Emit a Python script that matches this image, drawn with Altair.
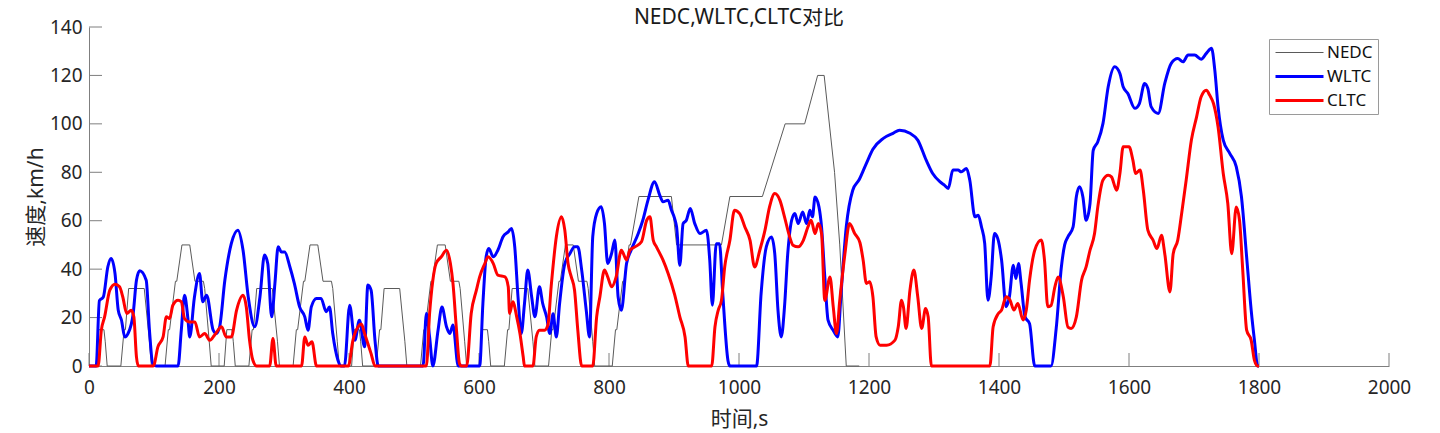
import altair as alt
import pandas as pd

TITLE = "NEDC,WLTC,CLTC对比"
X_TITLE = "时间,s"
Y_TITLE = "速度,km/h"
SERIES = ["NEDC", "WLTC", "CLTC"]
SERIES_COLORS = ["#5a5a5a", "#0000ff", "#ff0000"]
SERIES_WIDTHS = [1, 3, 3]
X_TICKS = [0, 200, 400, 600, 800, 1000, 1200, 1400, 1600, 1800, 2000]
Y_TICKS = [0, 20, 40, 60, 80, 100, 120, 140]

NEDC_T = [0, 11, 15, 23, 25, 28, 49, 54, 56, 61, 85, 93, 96, 117, 122, 124, 133, 135, 143, 155, 163, 176, 178, 185, 188,
          208, 212, 220, 222, 225, 246, 251, 253, 258, 282, 290, 293, 314, 319, 321, 330, 332, 340, 352, 360, 373, 375, 382, 385,
          404, 408, 416, 418, 421, 442, 447, 449, 454, 478, 486, 489, 510, 515, 517, 526, 528, 536, 548, 556, 569, 571, 578, 581,
          601, 605, 613, 615, 618, 639, 644, 646, 651, 675, 683, 686, 707, 712, 714, 723, 725, 733, 745, 753, 766, 768, 775, 778,
          805, 810, 812, 821, 823, 831, 833, 846, 896, 904, 973, 986, 1036, 1071, 1101, 1121, 1131, 1147, 1155, 1165, 1185]
NEDC_V = [0, 0, 15, 15, 10, 0, 0, 15, 15, 32, 32, 10, 0, 0, 15, 15, 35, 35, 50, 50, 35, 35, 32, 10, 0,
          0, 15, 15, 10, 0, 0, 15, 15, 32, 32, 10, 0, 0, 15, 15, 35, 35, 50, 50, 35, 35, 32, 10, 0,
          0, 15, 15, 10, 0, 0, 15, 15, 32, 32, 10, 0, 0, 15, 15, 35, 35, 50, 50, 35, 35, 32, 10, 0,
          0, 15, 15, 10, 0, 0, 15, 15, 32, 32, 10, 0, 0, 15, 15, 35, 35, 50, 50, 35, 35, 32, 10, 0,
          0, 15, 15, 35, 35, 50, 50, 70, 70, 50, 50, 70, 70, 100, 100, 120, 120, 80, 50, 0, 0]

WLTC_T = [0, 11, 16, 22, 29, 34, 40, 45, 50, 55, 60, 68, 73, 78, 88, 93, 98, 104,
          137, 142, 147, 152, 155, 162, 170, 175, 181, 191, 196, 201, 209, 219, 229, 237, 245, 255, 263, 270, 275, 281, 286, 291, 296, 301,
          309, 316, 324, 332, 337, 342, 350, 357, 365, 370, 375, 383, 388, 393, 401, 409, 416, 424, 429, 434, 440, 445,
          514, 519, 524, 529, 537, 543, 550, 555, 560, 568, 601, 606, 611, 615, 622, 629, 637, 645, 650, 655, 660, 665,
          670, 675, 681, 686, 693, 698, 704, 709, 714, 719, 724, 732, 740, 747, 752, 758, 765, 770, 775, 781, 788, 793,
          798, 804, 809, 814, 819, 827, 834, 845, 852, 860, 870, 878, 883, 891, 896, 901, 904, 909, 914, 919, 925, 932,
          940, 950, 955, 959, 965, 970, 975, 983, 986, 1027, 1034, 1042, 1050, 1055, 1060, 1065, 1070, 1075, 1081, 1086,
          1091, 1098, 1104, 1109, 1113, 1117, 1123, 1127, 1132, 1137, 1145, 1152, 1157, 1165, 1175, 1185, 1196, 1206,
          1222, 1237, 1247, 1263, 1275, 1288, 1298, 1309, 1316, 1322, 1329, 1337, 1342, 1350, 1355, 1363, 1368, 1373,
          1378, 1383, 1388, 1393, 1398, 1404, 1411, 1416, 1422, 1426, 1430, 1434, 1440, 1447, 1455, 1480, 1488, 1496,
          1501, 1506, 1514, 1519, 1524, 1529, 1534, 1540, 1545, 1552, 1560, 1568, 1578, 1586, 1591, 1598, 1609, 1616,
          1624, 1629, 1634, 1645, 1655, 1665, 1675, 1683, 1691, 1701, 1711, 1719, 1727, 1732, 1737, 1745, 1755, 1765,
          1773, 1781, 1788, 1793, 1798, 1800]
WLTC_V = [0, 0, 27, 28.5, 41, 44.4, 38.2, 23, 18.9, 12, 13.4, 21.7, 35.4, 39.3, 35.4, 14.8, 1, 0,
          0, 14.8, 29.2, 20, 12, 28, 38.2, 26.5, 29.2, 14.8, 13.4, 16.2, 35.4, 50.6, 56.1, 47.8, 28.5, 16.2, 28.5, 45.8, 42.3, 20.3, 34, 49.2, 47.1, 47.1,
          41, 34, 24.4, 20.3, 14.8, 24.4, 27.9, 27.9, 22.4, 24.4, 13.4, 2.4, 0, 0, 25.1, 10.6, 18.9, 7.9, 33.4, 31.3, 10.6, 0,
          0, 21.7, 12, 0, 14.8, 24.4, 16.2, 13.4, 16.9, 0, 0, 25.8, 45.1, 48.5, 45.1, 47.8, 53.4, 55.4, 56.8, 49.2, 28.6, 13.4,
          25.8, 39.6, 28.6, 20.3, 32.7, 25.8, 20.3, 13.4, 21.6, 12, 25.8, 42.3, 46.5, 49.2, 49.2, 39.6, 23, 12, 53.4, 63, 65.8, 58.9,
          42.3, 46.5, 52, 28.6, 23, 42.3, 47.8, 54.7, 60.2, 68.5, 76.1, 70.6, 67.8, 68.5, 64.4, 60.9, 57.4, 41.6, 58.8, 60.2, 65, 58.8,
          54.7, 56.1, 43.7, 25.1, 50.5, 50.5, 29.9, 2.3, 0, 0, 29.9, 49.2, 53.3, 46.4, 23, 12, 24.4, 46.4, 60.2, 63,
          58.8, 63.6, 58.8, 64.3, 61.6, 69.8, 65.7, 57.4, 36.8, 18.9, 14.7, 12, 29.9, 57.4, 72.6, 77, 83.7, 89.5,
          94, 96.1, 97.4, 96.1, 93.3, 85, 79.5, 76.1, 74.7, 73.3, 80.9, 80.9, 80.2, 81.6, 76.8, 61.6, 62.3, 57.5,
          50.6, 27.2, 36.8, 54.7, 52.7, 43.7, 24.5, 28.6, 41.6, 36.1, 42.3, 34.1, 20.3, 17.5, 0, 0, 15.5, 41,
          50, 53.3, 57.5, 69.9, 74, 69.9, 60.2, 67.1, 89.1, 92.6, 100.2, 115.3, 123.6, 120.8, 115.3, 112.6, 106.4, 108.4,
          116.7, 114.6, 107.1, 104.3, 116.7, 125, 127, 125.6, 128.4, 128.4, 126.7, 129.1, 131.2, 122.2, 107.1, 93.3, 87.8, 82.3,
          69.9, 45, 23, 10.6, 0, 0]

CLTC_T = [0, 14, 19, 24, 32, 40, 47, 52, 58, 65, 69, 73, 76, 99, 106, 114, 119, 124, 129, 137, 142, 147, 155, 163,
          170, 178, 186, 193, 204, 211, 219, 227, 237, 242, 247, 252, 258, 278, 283, 288, 327, 332, 337, 343, 350,
          399, 406, 414, 419, 424, 429, 434, 440, 519, 524, 529, 534, 542, 550, 556, 560, 565, 570, 573, 581, 588,
          596, 601, 609, 614, 622, 629, 640, 645, 647, 652, 658, 663, 668, 670, 683, 688, 693, 701, 706, 711, 719, 727,
          732, 737, 742, 747, 752, 758, 775, 781, 786, 793, 798, 804, 811, 819, 827, 832, 840, 850, 858, 863, 868, 873,
          883, 891, 901, 909, 917, 922, 958, 963, 968, 973, 978, 986, 993, 1001, 1009, 1017, 1024, 1032, 1040, 1047,
          1055, 1063, 1070, 1078, 1083, 1091, 1099, 1106, 1111, 1117, 1122, 1127, 1132, 1140, 1145, 1150, 1155, 1163,
          1170, 1178, 1186, 1191, 1196, 1201, 1206, 1211, 1217, 1227, 1240, 1245, 1250, 1253, 1257, 1263, 1269, 1275,
          1281, 1287, 1291, 1296, 1386, 1391, 1399, 1404, 1411, 1417, 1423, 1429, 1437, 1442, 1447, 1455, 1465, 1470,
          1475, 1480, 1486, 1491, 1499, 1506, 1511, 1519, 1527, 1534, 1540, 1547, 1552, 1560, 1568, 1573, 1581, 1586,
          1591, 1600, 1606, 1610, 1617, 1622, 1629, 1637, 1643, 1650, 1655, 1663, 1668, 1675, 1681, 1688, 1696, 1704,
          1711, 1719, 1724, 1730, 1737, 1745, 1752, 1758, 1765, 1770, 1775, 1781, 1788, 1793, 1798, 1800]
CLTC_V = [0, 0, 14.8, 20.3, 31.3, 33.8, 32.7, 28.5, 21.7, 23, 20.3, 3.8, 0, 0, 7.9, 12, 20.3, 19.6, 25.1, 27.2, 26.5, 19.6, 18.2, 18.2,
          12, 13.4, 10.6, 12.7, 16.2, 12, 12, 23, 29.2, 24.4, 10.6, 2.5, 0, 0, 11.4, 0, 0, 12, 8.6, 10, 0,
          0, 10.6, 16.2, 17.3, 13.4, 9.3, 5.1, 0, 0, 21.7, 35.4, 42.3, 45.1, 47.8, 42.3, 34, 16.2, 1, 0, 0, 21.7,
          31.3, 36.8, 42.3, 45.1, 42.3, 37.5, 36.8, 32.7, 21.7, 26.5, 20.3, 13.4, 3.8, 0, 0, 12, 14.8, 14.8, 16.9, 32.7, 53.4, 61.6,
          56.1, 42.3, 36.8, 31.3, 14.8, 0, 0, 20.3, 28.6, 39.6, 36.8, 32.7, 36.8, 47.8, 43.8, 47.8, 49.2, 51.3, 60.2, 61.6, 52, 49.2,
          43.8, 38.2, 29.5, 20.3, 12, 0, 0, 16.1, 23, 27.1, 40.9, 51.9, 64.3, 62.9, 57.4, 51.9, 40.9, 47.8, 56.1, 65.7,
          71.2, 68.4, 61.6, 53.3, 49.9, 49.2, 51.9, 57.4, 60.2, 54.7, 58.8, 54.7, 27.1, 36.8, 24.4, 13.4, 27.1, 46.4,
          58.8, 54.7, 51, 43.7, 34.1, 34.8, 28.6, 12, 8.6, 8.6, 10.7, 16.2, 27.2, 24.4, 15.5, 31.3, 39.6, 28.6,
          15.5, 23.7, 20.3, 0, 0, 16.2, 21.7, 23.1, 28.6, 27.2, 23.1, 25.8, 19, 23.1, 35.4, 47.8, 52, 43.7,
          24.5, 25, 32.7, 36.8, 28.5, 16.1, 15.5, 20.3, 35.4, 40.9, 47.8, 54.7, 65.7, 76.8, 78.8, 78.1, 72.6, 79.5,
          90.5, 90.5, 85, 79.5, 80.9, 72.6, 56.1, 52, 48.5, 54, 46.4, 30.6, 46.4, 52, 63, 76.8, 93.3, 102.9,
          111.2, 113.9, 111.9, 108.4, 98.8, 79.5, 67.1, 46.4, 65.7, 60.2, 39.5, 14.8, 10.6, 2.3, 0, 0]

W, H = 1300, 339
AXIS_COLOR = "#7f7f7f"
TEXT_COLOR = "#262626"
FONT = "Noto Sans, Noto Sans CJK SC"


def frame(name, times, speeds):
    return pd.DataFrame({"t": times, "v": speeds, "series": name})


def x_enc(field):
    return alt.X(f"{field}:Q", scale=alt.Scale(domain=[0, 2000], nice=False, zero=False),
                 axis=alt.Axis(values=X_TICKS, title=X_TITLE, format="d", labelFlush=False))


def y_enc(field):
    return alt.Y(f"{field}:Q", scale=alt.Scale(domain=[0, 140], nice=False),
                 axis=alt.Axis(values=Y_TICKS, title=Y_TITLE, format="d", labelFlush=False))


color = alt.Color("series:N", scale=alt.Scale(domain=SERIES, range=SERIES_COLORS),
                  legend=alt.Legend(title=None))
width = alt.StrokeWidth("series:N", scale=alt.Scale(type="ordinal", domain=SERIES, range=SERIES_WIDTHS),
                        legend=alt.Legend(title=None))

nedc = alt.Chart(frame("NEDC", NEDC_T, NEDC_V)).mark_line(interpolate="linear").encode(
    x=x_enc("t"), y=y_enc("v"), color=color, strokeWidth=width)
wltc = alt.Chart(frame("WLTC", WLTC_T, WLTC_V)).mark_line(interpolate="monotone").encode(
    x=x_enc("t"), y=y_enc("v"), color=color, strokeWidth=width)
cltc = alt.Chart(frame("CLTC", CLTC_T, CLTC_V)).mark_line(interpolate="monotone").encode(
    x=x_enc("t"), y=y_enc("v"), color=color, strokeWidth=width)

xticks = alt.Chart(pd.DataFrame({"t": X_TICKS})).mark_rule(color=AXIS_COLOR, strokeWidth=1).encode(
    x=x_enc("t"), y=alt.value(H), y2=alt.value(H - 13))
yticks = alt.Chart(pd.DataFrame({"v": Y_TICKS})).mark_rule(color=AXIS_COLOR, strokeWidth=1).encode(
    y=y_enc("v"), x=alt.value(0), x2=alt.value(13))

chart = alt.layer(xticks, yticks, nedc, wltc, cltc).properties(
    width=W, height=H,
    autosize=alt.AutoSizeParams(type="none"),
    padding={"left": 81, "top": 19, "right": 39, "bottom": 66},
    title=alt.Title(TITLE, fontSize=21, fontWeight="normal", font=FONT, color="#1a1a1a", offset=-10),
).configure_view(stroke=None).configure_axis(
    ticks=False, tickSize=0, grid=False, domainColor=AXIS_COLOR, domainWidth=1,
    labelFont=FONT, labelFontSize=19, labelColor=TEXT_COLOR,
    titleFont=FONT, titleFontSize=21, titleColor=TEXT_COLOR, titleFontWeight="normal",
).configure_axisX(labelPadding=12, titlePadding=11).configure_axisY(labelPadding=7, titlePadding=3).configure_legend(
    orient="none", legendX=1180, legendY=12,
    strokeColor="#9a9a9a", fillColor="white", padding=5, cornerRadius=0,
    symbolType="stroke", symbolSize=2304, clipHeight=17, rowPadding=6, labelOffset=2,
    labelFont=FONT, labelFontSize=17, labelColor="#111111",
)

chart.save("out.html", embed_options={"renderer": "svg", "actions": False})
